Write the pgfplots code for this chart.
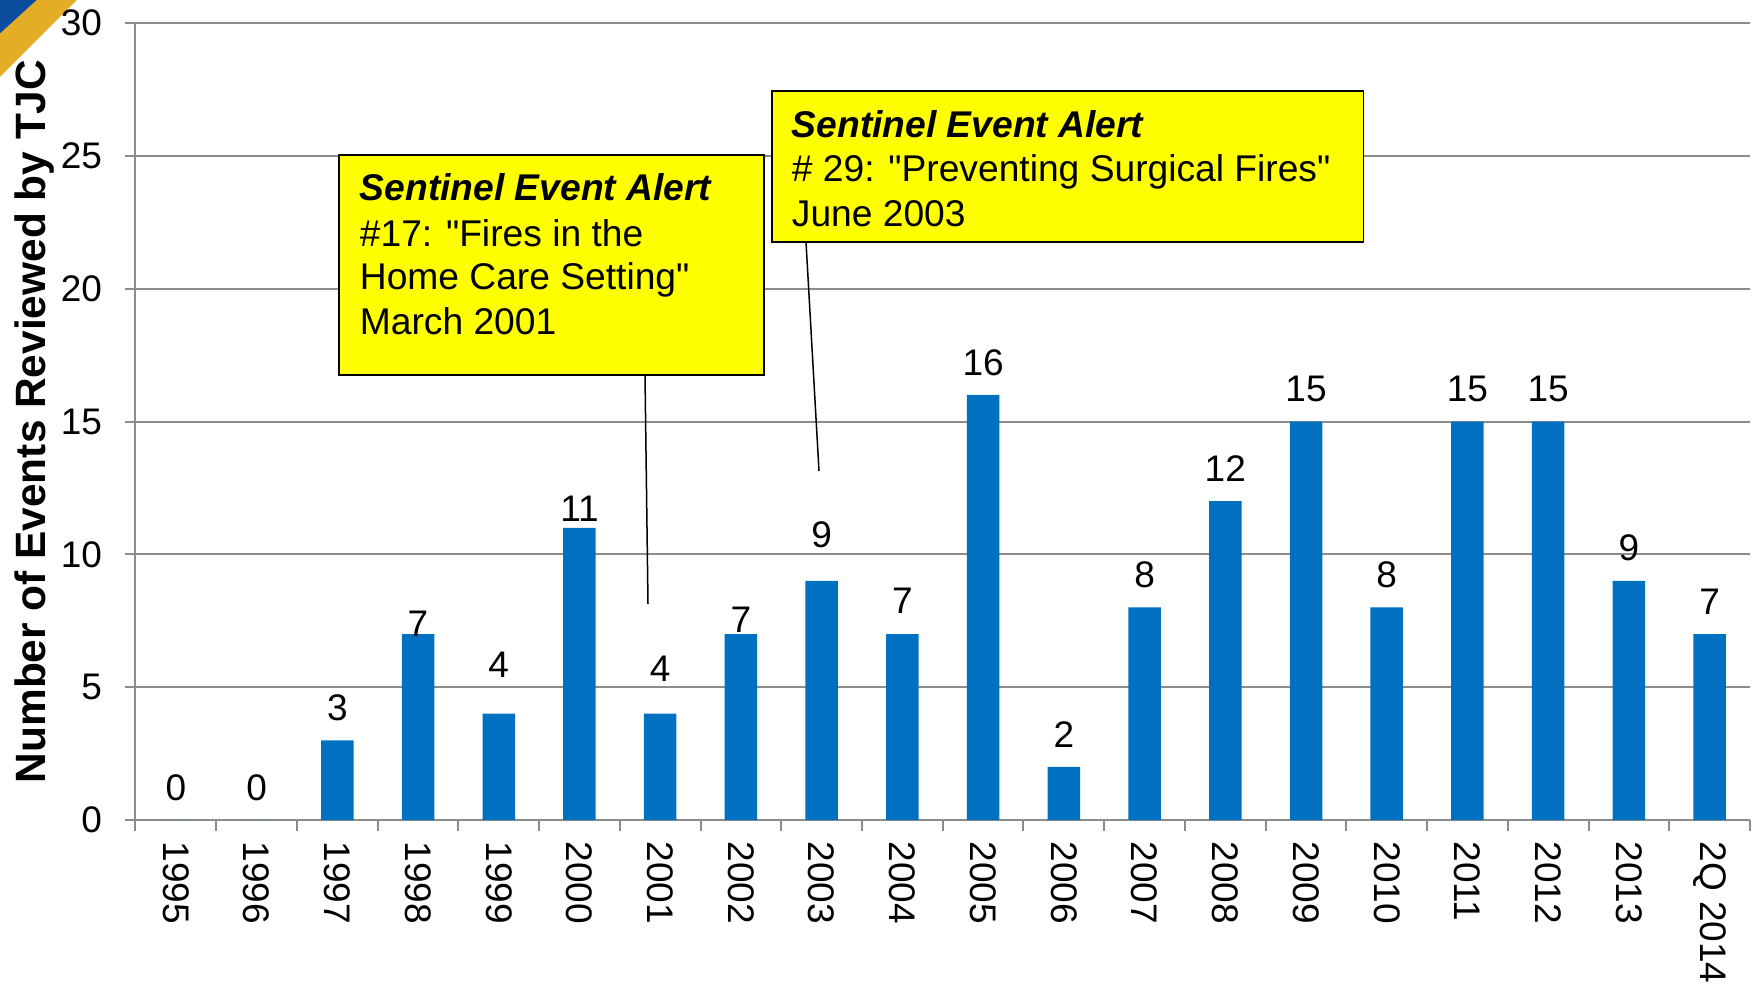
\documentclass[border=0pt]{standalone}
\usepackage{pgfplots}
\pgfplotsset{compat=1.18}
\usepackage{pgfplotstable}
\usepackage{fontspec}
\setmainfont{Liberation Sans}[Ligatures=TeXOff]
\definecolor{barblue}{HTML}{0070C0}
\definecolor{gridgray}{HTML}{8C8C8C}
\definecolor{cornerblue}{HTML}{0B4C9C}
\definecolor{cornergold}{HTML}{E3AE25}
\definecolor{boxyellow}{HTML}{FFFF00}

\pgfplotstableread{
x v ly
0 0 1.23
1 0 1.23
2 3 4.23
3 7 7.40
4 4 5.83
5 11 11.73
6 4 5.71
7 7 7.53
8 9 10.73
9 7 8.25
10 16 17.23
11 2 3.23
12 8 9.23
13 12 13.23
14 15 16.21
15 8 9.23
16 15 16.21
17 15 16.21
18 9 10.23
19 7 8.22
}\datatable

\newcommand{\tickfont}{\fontsize{18.5}{22}\selectfont}
\newcommand{\boxfont}{\fontsize{18.6}{22}\selectfont}

\begin{document}
\begin{tikzpicture}
\path[use as bounding box] (-67.75pt,-83.5pt) rectangle (810.25pt,410pt);
% corner decoration
\fill[cornergold] (-49.45pt,410pt) -- (-29.35pt,410pt) -- (-67.75pt,371.6pt) -- (-67.75pt,393.3pt) -- cycle;
\fill[cornerblue] (-67.75pt,410pt) -- (-49.45pt,410pt) -- (-67.75pt,393.3pt) -- cycle;
\begin{axis}[
  at={(0pt,0pt)}, anchor=south west,
  scale only axis, width=807.25pt, height=398.5pt,
  xmin=-0.5, xmax=19.5, ymin=0, ymax=30,
  axis x line*=bottom, axis y line*=left,
  axis line style={-, draw=gridgray, line width=1pt},
  tick align=outside,
  ytick={0,5,...,30},
  major tick length=5.35pt,
  minor tick length=5.35pt,
  xtick={0,...,19},
  xticklabels={1995,1996,1997,1998,1999,2000,2001,2002,2003,2004,2005,2006,2007,2008,2009,2010,2011,2012,2013,2Q 2014},
  minor xtick={-0.5,0.5,...,19.5},
  major x tick style={draw=none},
  minor x tick style={draw=gridgray, line width=1pt},
  major y tick style={draw=gridgray, line width=1pt},
  ymajorgrids,
  major grid style={draw=gridgray, line width=1pt},
  /pgf/number format/assume math mode=true,
  ticklabel style={font=\tickfont},
  yticklabel style={anchor=east, inner sep=0pt, xshift=-11.2pt},
  xticklabel style={rotate=-90, anchor=west, inner sep=0pt},
  xticklabel shift=5.2pt,
  ylabel={Number of Events Reviewed by TJC},
  every axis y label/.style={at={(axis description cs:-0.05605,0.5)}, rotate=90, anchor=base, font=\bfseries\fontsize{21.2}{25}\selectfont},
  clip=false,
]
\addplot[ybar, bar shift=0pt, bar width=16.25pt, fill=barblue, draw=none] table[x=x, y=v] {\datatable};
\addplot[draw=none, mark=none, point meta=explicit, nodes near coords,
  every node near coord/.append style={anchor=center, inner sep=0pt, font=\tickfont, text=black}]
  table[x=x, y=ly, meta=v] {\datatable};
\end{axis}
% callout 1
\draw[black, line width=0.75pt] (254.75pt,222.5pt) -- (256.25pt,108pt);
\draw[black, line width=0.85pt, fill=boxyellow] (101.9pt,222.5pt) rectangle (314.4pt,332.5pt);
\node[anchor=base west, inner sep=0pt, font=\boxfont\bfseries\itshape] at (112pt,309.5pt) {Sentinel Event Alert};
\node[anchor=base west, inner sep=0pt, font=\boxfont] at (112pt,287pt) {\#17: "Fires in the};
\node[anchor=base west, inner sep=0pt, font=\boxfont] at (112pt,265.3pt) {Home Care Setting"};
\node[anchor=base west, inner sep=0pt, font=\boxfont] at (112pt,242.8pt) {March 2001};
% callout 2
\draw[black, line width=0.75pt] (335.25pt,289pt) -- (341.75pt,174.5pt);
\draw[black, line width=0.85pt, fill=boxyellow] (318.1pt,289pt) rectangle (614pt,364.5pt);
\node[anchor=base west, inner sep=0pt, font=\boxfont\bfseries\itshape] at (328pt,341.3pt) {Sentinel Event Alert};
\node[anchor=base west, inner sep=0pt, font=\boxfont] at (328pt,319.3pt) {\# 29: "Preventing Surgical Fires"};
\node[anchor=base west, inner sep=0pt, font=\boxfont] at (328pt,296.8pt) {June 2003};
\end{tikzpicture}
\end{document}
